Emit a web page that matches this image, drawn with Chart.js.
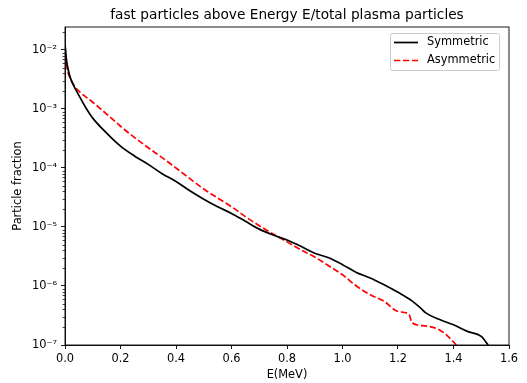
<!DOCTYPE html>
<html>
<head>
<meta charset="utf-8">
<script src="https://cdn.jsdelivr.net/npm/chart.js@4/dist/chart.umd.min.js"></script>
<style>
  html, body { margin: 0; padding: 0; background: #fff; }
  canvas { display: block; }
</style>
</head>
<body>
<canvas id="myChart" width="527" height="383"></canvas>
<script>
// energies (MeV) and particle fractions
const symE = [0, 0.005, 0.01, 0.02, 0.035, 0.05, 0.075, 0.1, 0.15, 0.2, 0.25, 0.3, 0.35, 0.4, 0.45, 0.5, 0.55, 0.6, 0.65, 0.7, 0.75, 0.8, 0.85, 0.9, 0.95, 1.0, 1.05, 1.1, 1.15, 1.2, 1.25, 1.28, 1.3, 1.35, 1.4, 1.45, 1.5, 1.525]
const symFrac = [1.25e-2, 7e-3, 5e-3, 3.3e-3, 2.3e-3, 1.7e-3, 1.05e-3, 7.0e-4, 3.9e-4, 2.35e-4, 1.6e-4, 1.15e-4, 8.0e-5, 5.9e-5, 4.1e-5, 2.95e-5, 2.2e-5, 1.7e-5, 1.25e-5, 9.2e-6, 7.3e-6, 6.0e-6, 4.7e-6, 3.6e-6, 3.0e-6, 2.3e-6, 1.7e-6, 1.37e-6, 1.05e-6, 7.8e-7, 5.6e-7, 4.3e-7, 3.5e-7, 2.7e-7, 2.2e-7, 1.7e-7, 1.4e-7, 1.0e-7]

const asymE = [0, 0.005, 0.01, 0.02, 0.035, 0.05, 0.1, 0.15, 0.2, 0.25, 0.3, 0.35, 0.4, 0.45, 0.5, 0.55, 0.6, 0.65, 0.7, 0.75, 0.8, 0.85, 0.9, 0.95, 1.0, 1.05, 1.1, 1.15, 1.2, 1.24, 1.25, 1.3, 1.35, 1.38, 1.41]
const asymFrac = [1.2e-2, 6e-3, 4.3e-3, 3.2e-3, 2.4e-3, 2.0e-3, 1.3e-3, 8.2e-4, 5.1e-4, 3.3e-4, 2.2e-4, 1.5e-4, 1.0e-4, 6.6e-5, 4.4e-5, 3.1e-5, 2.2e-5, 1.5e-5, 1.05e-5, 7.6e-6, 5.6e-6, 4.1e-6, 3.1e-6, 2.2e-6, 1.55e-6, 1.0e-6, 7.1e-7, 5.5e-7, 3.7e-7, 3.3e-7, 2.4e-7, 2.1e-7, 1.8e-7, 1.4e-7, 1.0e-7]

const xTicks = [0, 0.2, 0.4, 0.6, 0.8, 1.0, 1.2, 1.4, 1.6]
const yTicks = [1e-7, 1e-6, 1e-5, 1e-4, 1e-3, 1e-2]

const TITLE = 'fast particles above Energy E/total plasma particles'
const FONT = 'DejaVu Sans'
const SUP = {'-': '\u207B', '0': '\u2070', '1': '\u00B9', '2': '\u00B2', '3': '\u00B3', '4': '\u2074', '5': '\u2075', '6': '\u2076', '7': '\u2077', '8': '\u2078', '9': '\u2079'}

function powLabel(v) {
    const e = String(Math.round(Math.log10(v)))
    return '10' + e.split('').map(c => SUP[c]).join('')
}

function toPoints(xs, ys) {
    return xs.map((x, i) => ({x: x, y: ys[i]}))
}

// box frame, minor log ticks, title and legend in the matplotlib look
const framePlugin = {
    id: 'frame',
    afterDraw(chart) {
        const {ctx, chartArea: a, scales} = chart
        ctx.save()
        ctx.strokeStyle = '#000'
        ctx.lineWidth = 0.9
        ctx.strokeRect(a.left, a.top, a.right - a.left, a.bottom - a.top)

        const y = scales.y
        ctx.lineWidth = 0.7
        ctx.beginPath()
        for (let d = -8; d <= -2; d++) {
            for (let m = 2; m <= 9; m++) {
                const v = m * Math.pow(10, d)
                if (v < y.min || v > y.max) continue
                const py = Math.round(y.getPixelForValue(v)) + 0.5
                ctx.moveTo(a.left - 2.5, py)
                ctx.lineTo(a.left, py)
            }
        }
        ctx.stroke()

        // title centred over the plot area
        ctx.fillStyle = '#000'
        ctx.font = '13.7px "' + FONT + '"'
        ctx.textAlign = 'center'
        ctx.textBaseline = 'middle'
        ctx.fillText(TITLE, (a.left + a.right) / 2, 15.5)

        // legend
        const lx = 390, ly = 33, lw = 109, lh = 37
        ctx.fillStyle = 'rgba(255,255,255,0.8)'
        ctx.strokeStyle = '#cccccc'
        ctx.lineWidth = 1
        ctx.beginPath()
        ctx.roundRect(lx + 0.5, ly + 0.5, lw, lh, 2)
        ctx.fill()
        ctx.stroke()

        const items = chart.data.datasets
        ctx.font = '11.4px "' + FONT + '"'
        ctx.textAlign = 'left'
        items.forEach((ds, i) => {
            const yy = ly + 9.5 + i * 18
            ctx.strokeStyle = ds.borderColor
            ctx.lineWidth = ds.borderWidth
            ctx.setLineDash(ds.borderDash || [])
            ctx.beginPath()
            ctx.moveTo(lx + 4, yy)
            ctx.lineTo(lx + 28, yy)
            ctx.stroke()
            ctx.setLineDash([])
            ctx.fillStyle = '#000'
            ctx.fillText(ds.label, lx + 37, yy)
        })
        ctx.restore()
    }
}

function drawChart() {
    const ctx = document.getElementById('myChart')

    const data = {
        datasets: [
            {
            label: 'Symmetric',
            data: toPoints(symE, symFrac),
            borderColor: '#000000',
            borderWidth: 1.7,
            pointRadius: 0,
            cubicInterpolationMode: 'monotone'
        },
            {
            label: 'Asymmetric',
            data: toPoints(asymE, asymFrac),
            borderColor: '#ff0000',
            borderWidth: 1.7,
            borderDash: [6.3, 2.7],
            pointRadius: 0,
            cubicInterpolationMode: 'monotone'
        }]
    }

    const tickFont = {family: FONT, size: 11.4}

    const config = {
        type: 'line',
        data: data,
        options: {
            responsive: false,
            animation: false,
            devicePixelRatio: 1,
            layout: {padding: {left: 0, right: 18, top: 27, bottom: 0}},
            scales: {
                x: {
                    type: 'linear',
                    min: 0, max: 1.6,
                    afterBuildTicks: s => { s.ticks = xTicks.map(v => ({value: v})) },
                    afterFit: s => { s.height = 38 },
                    ticks: {color: '#000', font: tickFont, padding: 3, maxRotation: 0, callback: v => v.toFixed(1)},
                    grid: {drawOnChartArea: false, drawTicks: true, tickLength: 4, tickColor: '#000', tickWidth: 0.9},
                    border: {color: '#000', width: 0.9},
                    title: {display: true, text: 'E(MeV)', color: '#000', font: tickFont, padding: {top: 0, bottom: 1}}
                },
                y: {
                    type: 'logarithmic',
                    min: 1e-7, max: 0.0245,
                    afterBuildTicks: s => { s.ticks = yTicks.map(v => ({value: v})) },
                    afterFit: s => { s.width = 65 },
                    ticks: {color: '#000', font: tickFont, padding: 4, callback: v => powLabel(v)},
                    grid: {drawOnChartArea: false, drawTicks: true, tickLength: 4, tickColor: '#000', tickWidth: 0.9},
                    border: {color: '#000', width: 0.9},
                    title: {display: true, text: 'Particle fraction', color: '#000', font: tickFont, padding: {top: 11, bottom: 0}}
                }
            },
            plugins: {
                legend: {display: false},
                tooltip: {enabled: false},
                title: {display: false}
            }
        },
        plugins: [framePlugin]
    }

    new Chart(ctx, config)
}

document.addEventListener('DOMContentLoaded', drawChart)
</script>
</body>
</html>
